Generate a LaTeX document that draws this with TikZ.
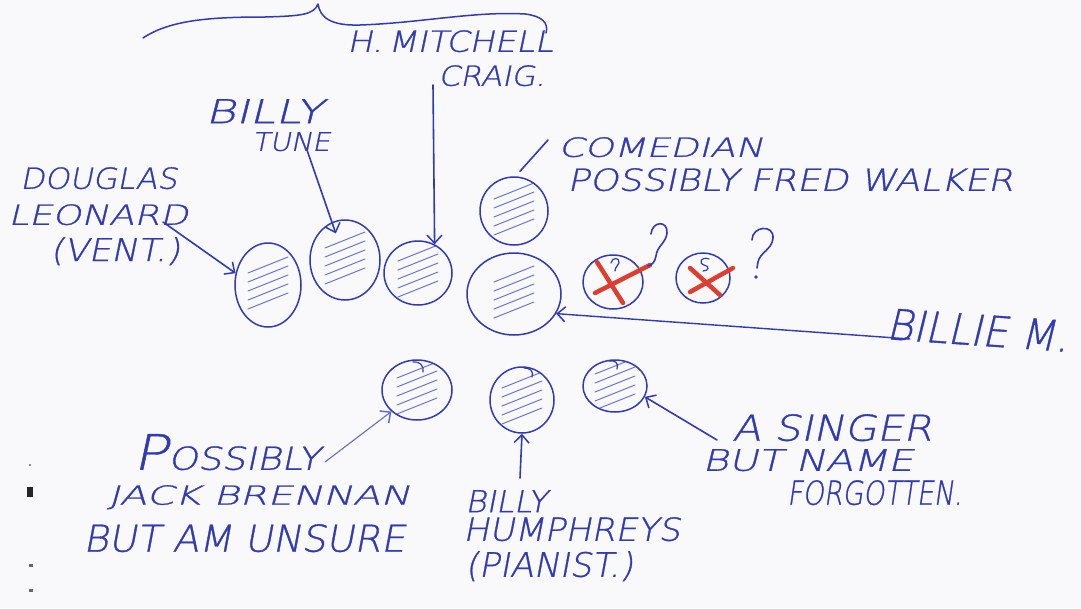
\documentclass[tikz,border=0pt]{standalone}
\usepackage{fontspec}
\IfFontExistsTF{DejaVu Sans ExtraLight}
  {\newfontfamily\hand{DejaVu Sans ExtraLight}[FakeSlant=0.18,FakeBold=0.9]}
  {\newfontfamily\hand{DejaVu Sans}[FakeSlant=0.18]}
\usepackage{graphicx}
\usetikzlibrary{arrows.meta,shapes.geometric,calc}
\definecolor{ink}{RGB}{48,58,178}
\definecolor{hatchink}{RGB}{105,115,202}
\definecolor{redink}{RGB}{222,62,48}
\definecolor{paper}{RGB}{249,249,251}
\newcommand{\hw}[3]{\resizebox*{#1pt}{#2pt}{\hand #3}}
\begin{document}
\begin{tikzpicture}[x=1pt,y=-1pt,
  inkline/.style={draw=ink, line width=1.6pt, line cap=round, line join=round},
  person/.style={ellipse, draw=ink, line width=1.5pt, inner sep=0pt,
    path picture={\foreach \k in {-2,...,2} {\draw[hatchink, line width=1pt, line cap=round] ([shift={(-20,6+9*\k)}]path picture bounding box.center) -- ++(40,-16);}}},
  plainperson/.style={ellipse, draw=ink, line width=1.5pt, inner sep=0pt},
  hand/.style={anchor=north west, inner sep=0pt, text=ink},
  arr/.style={inkline, -{Straight Barb[length=8pt,width=15pt,line width=1.5pt]}},
  redx/.style={draw=redink, line width=4.5pt, line cap=round},
]
\useasboundingbox (0,0) rectangle (1081,608);
\fill[paper] (0,0) rectangle (1081,608);

% brace
\draw[inkline, line width=1.5pt] (143,38) .. controls (170,20) and (210,17) .. (265,17)
  .. controls (300,16) and (314,15) .. (318,4)
  .. controls (320,17) and (330,26) .. (360,25)
  .. controls (420,23) and (475,11) .. (525,14)
  .. controls (542,16) and (549,23) .. (546,33);

% people
\node[person, minimum width=66pt, minimum height=84pt] (dl) at (268,285) {};
\node[person, minimum width=70pt, minimum height=80pt] (bt) at (345,260) {};
\node[person, minimum width=68pt, minimum height=64pt] (mc) at (418,273) {};
\node[person, minimum width=68pt, minimum height=68pt] (cm) at (514,211) {};
\node[person, minimum width=94pt, minimum height=82pt] (bm) at (514,294) {};
\node[plainperson, minimum width=60pt, minimum height=54pt] (q1) at (613,282) {};
\node[plainperson, minimum width=54pt, minimum height=50pt] (q2) at (703,278) {};
\node[person, minimum width=70pt, minimum height=60pt] (jb) at (417,390) {};
\node[person, minimum width=64pt, minimum height=66pt] (bh) at (522,400) {};
\node[person, minimum width=64pt, minimum height=52pt] (sg) at (615,386) {};

% notches on lower heads
\draw[inkline, line width=1.2pt] (413,362) .. controls (419,361) and (424,365) .. (423,372);
\draw[inkline, line width=1.2pt] (524,368) .. controls (530,368) and (534,371) .. (532,377);
\draw[inkline, line width=1.2pt] (609,361) .. controls (615,360) and (619,363) .. (617,369);

% crosses and question marks
\draw[redx] ([shift={(-16,-20)}]q1.center) -- ([shift={(10,21)}]q1.center);
\draw[redx] ([shift={(-18,11)}]q1.center) -- ([shift={(37,-17)}]q1.center);
\draw[redx] ([shift={(-13,-10)}]q2.center) -- ([shift={(17,17)}]q2.center);
\draw[redx] ([shift={(-13,14)}]q2.center) -- ([shift={(30,-10)}]q2.center);
\draw[inkline, line width=1.2pt] (611,263) .. controls (612,257) and (620,257) .. (619,263) .. controls (618,266) and (615,267) .. (615,271);
\draw[inkline, line width=1.2pt] (709,259) .. controls (701,256) and (698,263) .. (704,265) .. controls (710,266) and (709,271) .. (703,271);
\draw[inkline] (651,234) .. controls (652,221) and (668,220) .. (667,233) .. controls (666,243) and (657,246) .. (656,256) .. controls (655,262) and (652,265) .. (648,266);
\draw[inkline] (752,240) .. controls (752,226) and (774,224) .. (773,238) .. controls (772,250) and (760,252) .. (758,262) -- (757,268);
\fill[ink] (756,277) circle (1.8);

% labels
\node[hand] (hm1) at (347,30) {\hw{206}{22}{H.\,MITCHELL}};
\node[hand] (hm2) at (438,65) {\hw{107}{21}{CRAIG.}};
\node[hand] (bt1) at (205,99) {\hw{118}{24}{BILLY}};
\node[hand] (bt2) at (252,132) {\hw{78}{19}{TUNE}};
\node[hand] (dl1) at (20,167) {\hw{157}{22}{DOUGLAS}};
\node[hand] (dl2) at (8,204) {\hw{180}{21}{LEONARD}};
\node[hand] (dl3) at (50,237) {\hw{130}{28}{(VENT.)}};
\node[hand] (cm1) at (558,137) {\hw{205}{20}{COMEDIAN}};
\node[hand] (cm2) at (567,168) {\hw{446}{23}{POSSIBLY FRED WALKER}};
\node[hand, rotate=-4] (bm1) at (888,308) {\hw{182}{31}{BILLIE M.}};
\node[hand] (jb1) at (133,434) {\hw{187}{36}{P\scalebox{0.65}{OSSIBLY}}};
\node[hand] (jb2) at (108,485) {\hw{302}{24}{JACK BRENNAN}};
\node[hand] (jb3) at (83,524) {\hw{322}{28}{BUT AM UNSURE}};
\node[hand] (bh1) at (465,490) {\hw{82}{22}{BILLY}};
\node[hand] (bh2) at (463,517) {\hw{217}{24}{HUMPHREYS}};
\node[hand] (bh3) at (465,551) {\hw{168}{30}{(PIANIST.)}};
\node[hand] (sg1) at (732,414) {\hw{200}{27}{A SINGER}};
\node[hand] (sg2) at (702,449) {\hw{211}{22}{BUT NAME}};
\node[hand] (sg3) at (787,480) {\hw{175}{25}{FORGOTTEN.}};

% connector tails
\coordinate (dlt) at (163,222);
\coordinate (btt) at (307,150);
\coordinate (mct) at (433,85);
\coordinate (cmt) at (548,140);
\coordinate (bmt) at (910,339);
\coordinate (jbt) at (325,462);
\coordinate (bht) at (520,478);
\coordinate (sgt) at (717,440);

% connectors
\draw[arr] (dlt) -- (dl.160);
\draw[arr, shorten >=-12pt] (btt) -- (bt);
\draw[arr] (mct) -- (mc.60);
\draw[inkline] (cmt) -- ([shift={(6,-5)}]cm.north);
\draw[arr, line width=1.4pt] (bmt) -- (bm.-25);
\draw[arr, draw=ink!75, line width=1.1pt] (jbt) -- (jb.220);
\draw[arr] (bht) -- (bh.south);
\draw[arr] (sgt) -- (sg.-20);

% scan marks at left edge
\fill[black!85] (27,487) rectangle (33,497);
\fill[black!60] (30,465) circle (1.2);
\fill[black!60] (29,564) rectangle (33,567);
\fill[black!60] (29,589) rectangle (33,592);
\end{tikzpicture}
\end{document}
